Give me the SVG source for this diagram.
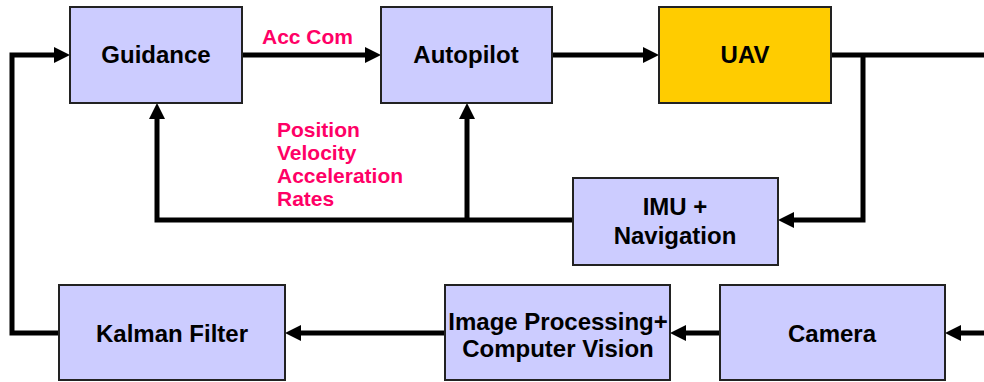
<svg xmlns="http://www.w3.org/2000/svg" width="984" height="382" viewBox="0 0 984 382">
<defs>
<style>
.box{fill:#CCCCFF;stroke:#222;stroke-width:2}
.uav{fill:#FFCC00;stroke:#222;stroke-width:2}
.t{font-family:"Liberation Sans",Arial,sans-serif;font-weight:bold;font-size:24px;fill:#000;text-anchor:middle}
.lbl{font-family:"Liberation Sans",Arial,sans-serif;font-weight:bold;font-size:21px;fill:#FF0066}
.c{fill:none;stroke:#000;stroke-width:5;stroke-linejoin:miter}
.a{marker-end:url(#arr)}
</style>
<marker id="arr" markerUnits="userSpaceOnUse" markerWidth="16" markerHeight="16" refX="2" refY="8" orient="auto">
<path d="M0,0 L16,8 L0,16 z" fill="#000"/>
</marker>
</defs>
<rect width="984" height="382" fill="#fff"/>
<g id="connectors">
<path class="c a" d="M59,333 H12 V55 H56"/>
<path class="c a" d="M242,55 H367"/>
<path class="c a" d="M552,55 H645"/>
<path class="c" d="M832,55 H984"/>
<path class="c a" d="M863,55 V220 H792"/>
<path class="c a" d="M573,220 H157 V117"/>
<path class="c a" d="M467,220 V117"/>
<path class="c a" d="M984,333 H959"/>
<path class="c a" d="M720,333 H684"/>
<path class="c a" d="M445,333 H299"/>
</g>
<g id="guidance"><rect class="box" x="70" y="7" width="172" height="96"/><text class="t" x="156" y="63">Guidance</text></g>
<g id="autopilot"><rect class="box" x="381" y="7" width="171" height="96"/><text class="t" x="466" y="63">Autopilot</text></g>
<g id="uav"><rect class="uav" x="659" y="7" width="172" height="96"/><text class="t" x="745" y="63">UAV</text></g>
<g id="imu"><rect class="box" x="573" y="178" width="205" height="87"/><text class="t" x="675" y="215">IMU +</text><text class="t" x="675" y="244">Navigation</text></g>
<g id="kalman"><rect class="box" x="59" y="285" width="226" height="95"/><text class="t" x="172" y="342">Kalman Filter</text></g>
<g id="imageproc"><rect class="box" x="445" y="285" width="225" height="95"/><text class="t" x="558" y="330">Image Processing+</text><text class="t" x="558" y="357">Computer Vision</text></g>
<g id="camera"><rect class="box" x="720" y="285" width="225" height="95"/><text class="t" x="832" y="342">Camera</text></g>
<g id="labels">
<text class="lbl" x="262" y="44">Acc Com</text>
<text class="lbl" x="277" y="137">Position</text>
<text class="lbl" x="277" y="160">Velocity</text>
<text class="lbl" x="277" y="183">Acceleration</text>
<text class="lbl" x="277" y="206">Rates</text>
</g>
</svg>
